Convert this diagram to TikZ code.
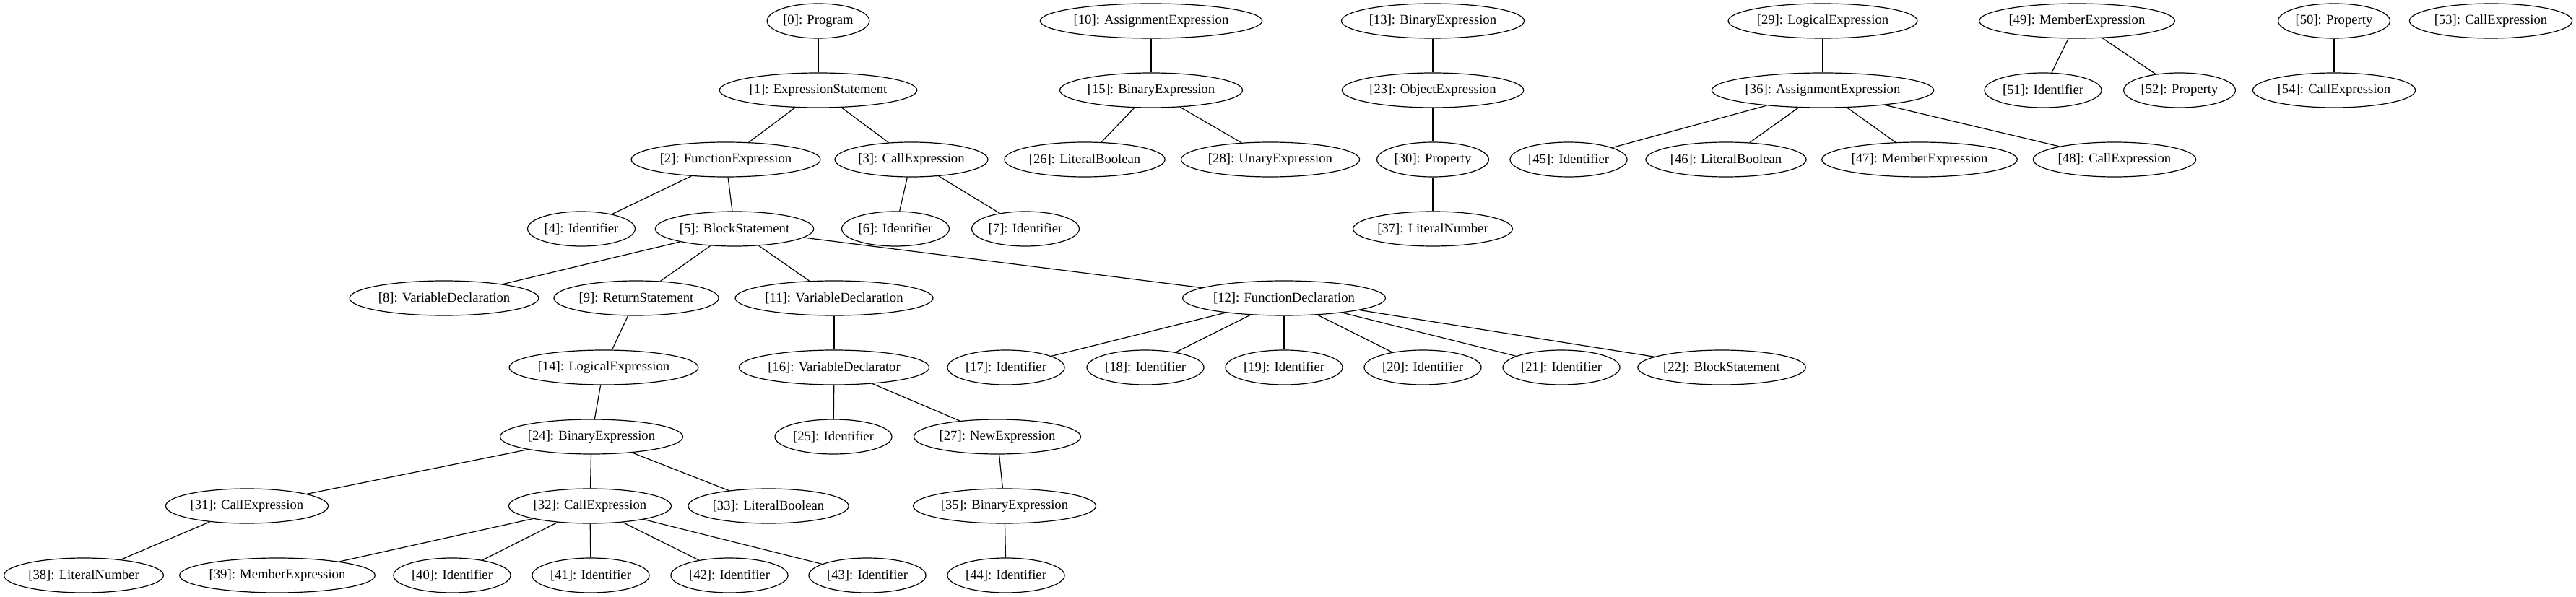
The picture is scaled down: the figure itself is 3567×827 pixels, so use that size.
\documentclass[tikz,border=0pt]{standalone}
\usepackage{fontspec}
\setmainfont{Liberation Serif}
\usepackage{tikz}
\usetikzlibrary{shapes.geometric}

\tikzset{
    astnode/.style={ellipse, draw, line width=0.9pt, inner xsep=1pt, inner ysep=1pt,
        minimum height=36pt, font=\fontsize{14}{16}\selectfont},
    astedge/.style={line width=0.9pt}
}

\begin{document}
\begin{tikzpicture}[x=0.75pt, y=-0.75pt]
    \useasboundingbox (0,0) rectangle (3567,827);

    % Main tree
    \node[astnode] (n0) at (1133,29) {[0]: Program};
    \node[astnode] (n1) at (1133,125) {[1]: ExpressionStatement};
    \node[astnode] (n2) at (1005,221) {[2]: FunctionExpression};
    \node[astnode] (n3) at (1262,221) {[3]: CallExpression};
    \node[astnode] (n4) at (805,317) {[4]: Identifier};
    \node[astnode] (n5) at (1017,317) {[5]: BlockStatement};
    \node[astnode] (n6) at (1240,317) {[6]: Identifier};
    \node[astnode] (n7) at (1420,317) {[7]: Identifier};
    \node[astnode] (n8) at (615,413) {[8]: VariableDeclaration};
    \node[astnode] (n9) at (881,413) {[9]: ReturnStatement};
    \node[astnode] (n11) at (1155,413) {[11]: VariableDeclaration};
    \node[astnode] (n12) at (1778,413) {[12]: FunctionDeclaration};
    \node[astnode] (n14) at (836,509) {[14]: LogicalExpression};
    \node[astnode] (n16) at (1155,509) {[16]: VariableDeclarator};
    \node[astnode] (n17) at (1393,509) {[17]: Identifier};
    \node[astnode] (n18) at (1586,509) {[18]: Identifier};
    \node[astnode] (n19) at (1778,509) {[19]: Identifier};
    \node[astnode] (n20) at (1970,509) {[20]: Identifier};
    \node[astnode] (n21) at (2162,509) {[21]: Identifier};
    \node[astnode] (n22) at (2384,509) {[22]: BlockStatement};
    \node[astnode] (n24) at (819,605) {[24]: BinaryExpression};
    \node[astnode] (n25) at (1154,605) {[25]: Identifier};
    \node[astnode] (n27) at (1381,605) {[27]: NewExpression};
    \node[astnode] (n31) at (342,701) {[31]: CallExpression};
    \node[astnode] (n32) at (817,701) {[32]: CallExpression};
    \node[astnode] (n33) at (1064,701) {[33]: LiteralBoolean};
    \node[astnode] (n35) at (1391,701) {[35]: BinaryExpression};
    \node[astnode] (n38) at (116,797) {[38]: LiteralNumber};
    \node[astnode] (n39) at (384,797) {[39]: MemberExpression};
    \node[astnode] (n40) at (626,797) {[40]: Identifier};
    \node[astnode] (n41) at (818,797) {[41]: Identifier};
    \node[astnode] (n42) at (1010,797) {[42]: Identifier};
    \node[astnode] (n43) at (1201,797) {[43]: Identifier};
    \node[astnode] (n44) at (1393,797) {[44]: Identifier};

    % Other roots
    \node[astnode] (n10) at (1594,29) {[10]: AssignmentExpression};
    \node[astnode] (n15) at (1594,125) {[15]: BinaryExpression};
    \node[astnode] (n26) at (1502,221) {[26]: LiteralBoolean};
    \node[astnode] (n28) at (1759,221) {[28]: UnaryExpression};

    \node[astnode] (n13) at (1984,29) {[13]: BinaryExpression};
    \node[astnode] (n23) at (1984,125) {[23]: ObjectExpression};
    \node[astnode] (n30) at (1984,221) {[30]: Property};
    \node[astnode] (n37) at (1984,317) {[37]: LiteralNumber};

    \node[astnode] (n29) at (2524,29) {[29]: LogicalExpression};
    \node[astnode] (n36) at (2524,125) {[36]: AssignmentExpression};
    \node[astnode] (n45) at (2172,221) {[45]: Identifier};
    \node[astnode] (n46) at (2390,221) {[46]: LiteralBoolean};
    \node[astnode] (n47) at (2658,221) {[47]: MemberExpression};
    \node[astnode] (n48) at (2928,221) {[48]: CallExpression};

    \node[astnode] (n49) at (2876,29) {[49]: MemberExpression};
    \node[astnode] (n51) at (2829,125) {[51]: Identifier};
    \node[astnode] (n52) at (3018,125) {[52]: Property};

    \node[astnode] (n50) at (3232,29) {[50]: Property};
    \node[astnode] (n54) at (3232,125) {[54]: CallExpression};

    \node[astnode] (n53) at (3449,29) {[53]: CallExpression};

    % Edges
    \foreach \a/\b in {0/1, 1/2, 1/3, 2/4, 2/5, 3/6, 3/7, 5/8, 5/9, 5/11, 5/12,
        9/14, 11/16, 12/17, 12/18, 12/19, 12/20, 12/21, 12/22, 14/24, 16/25, 16/27,
        24/31, 24/32, 24/33, 27/35, 31/38, 32/39, 32/40, 32/41, 32/42, 32/43, 35/44,
        10/15, 15/26, 15/28, 13/23, 23/30, 30/37, 29/36, 36/45, 36/46, 36/47, 36/48,
        49/51, 49/52, 50/54}
        \draw[astedge] (n\a) -- (n\b);
\end{tikzpicture}
\end{document}
